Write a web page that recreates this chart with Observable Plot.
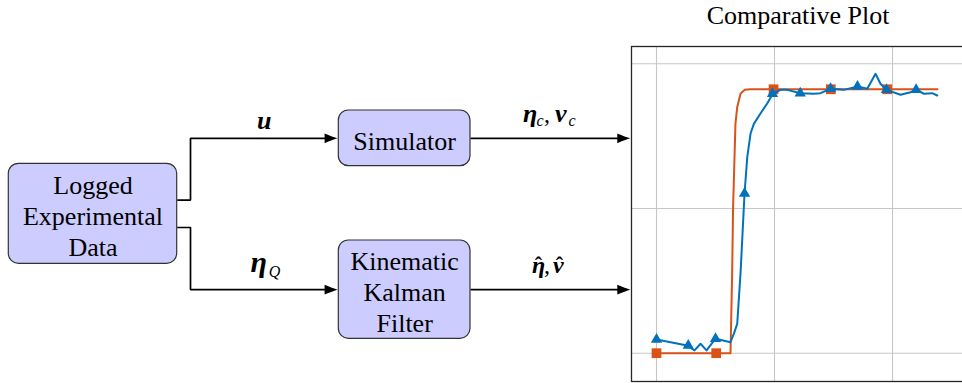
<!DOCTYPE html>
<html>
<head>
<meta charset="utf-8">
<script src="https://cdn.jsdelivr.net/npm/d3@7"></script>
<script src="https://cdn.jsdelivr.net/npm/@observablehq/plot@0.6"></script>
<style>
  body { margin: 0; background: #fff; }
  #fig { position: relative; width: 962px; height: 383px; overflow: hidden; background: #fff; }
  #fig svg { position: absolute; top: 0; }
  #fig svg text { font-family: "Liberation Serif", "Times New Roman", serif !important; }
</style>
</head>
<body>
<div id="fig"></div>
<script>
// ---- Block diagram content ----
const blockIds = ["data", "sim", "kkf"];
const blockLabels = ["Logged\nExperimental\nData", "Simulator", "Kinematic\nKalman\nFilter"];

// wires between blocks and into the plot
const wireIds = ["u", "etaQ", "simOut", "kfOut"];
const wireSources = ["data", "data", "sim", "kkf"];
const wireTargets = ["sim", "kkf", "plot", "plot"];

// ---- Comparative plot series (time and value in grid units) ----
// simulator output (orange)
const simT = [0, 0.627, 0.641, 0.649, 0.669, 0.684, 0.712, 0.746, 0.797, 2.381];
const simY = [0, 0, 0.549, 1.009, 1.585, 1.700, 1.793, 1.820, 1.824, 1.824];
const simMarkT = [0, 0.506, 0.992, 1.477, 1.955];
const simMarkY = [0, 0, 1.824, 1.824, 1.824];
// Kalman filter estimate (blue)
const kfT = [0, 0.26, 0.322, 0.373, 0.424, 0.5, 0.627, 0.655, 0.684, 0.712, 0.746, 0.769, 0.797, 0.825, 0.881, 0.938, 0.986, 1.051, 1.108, 1.22, 1.333, 1.39, 1.475, 1.587, 1.706, 1.786, 1.856, 1.898, 1.949, 2.068, 2.153, 2.203, 2.266, 2.337, 2.379];
const kfY = [0.095, 0.053, 0.019, 0.065, 0.019, 0.1, 0.076, 0.134, 0.203, 0.551, 1.104, 1.355, 1.518, 1.585, 1.657, 1.726, 1.793, 1.820, 1.820, 1.797, 1.793, 1.797, 1.827, 1.820, 1.843, 1.827, 1.931, 1.862, 1.820, 1.786, 1.804, 1.820, 1.793, 1.797, 1.781];
const kfMarkT = [0, 0.269, 0.5, 0.746, 0.983, 1.218, 1.475, 1.703, 1.949, 2.2];
const kfMarkY = [0.095, 0.053, 0.1, 1.104, 1.793, 1.797, 1.827, 1.843, 1.820, 1.820];
const gridTicksX = [0, 1, 2];
const gridTicksY = [0, 1, 2];
const plotTitle = "Comparative Plot";

// ---- Layout (pixels) ----
const layout = {
  blocks: {
    data: {x1: 8.3, x2: 176.7, y1: 163.3, y2: 263.3},
    sim:  {x1: 338.3, x2: 470, y1: 110, y2: 165.7},
    kkf:  {x1: 338.3, x2: 470, y1: 240, y2: 338.3}
  },
  plot: {left: 631, right: 964, top: 46, bottom: 381, svgLeft: 620, svgWidth: 352},
  forkX: 190,
  forkOffset: 13.7,
  gapToTarget: 1.2,
  radius: 10
};

const serif = "Liberation Serif";
const mid = b => (b.y1 + b.y2) / 2;

const blocks = blockIds.map((id, i) => ({id, label: blockLabels[i], ...layout.blocks[id]}));

// wire polylines routed from the block geometry
const wirePoints = [];
const wireTips = [];
wireIds.forEach((id, i) => {
  const s = layout.blocks[wireSources[i]];
  const tgt = wireTargets[i];
  let pts;
  if (tgt === "plot") {
    const y = mid(s);
    pts = [[s.x2, y], [layout.plot.left - layout.gapToTarget, y]];
  } else {
    const t = layout.blocks[tgt];
    const y0 = mid(s) + (i === 0 ? -layout.forkOffset : layout.forkOffset);
    const y1 = mid(t);
    pts = [[s.x2, y0], [layout.forkX, y0], [layout.forkX, y1], [t.x1 - layout.gapToTarget, y1]];
  }
  const [tx, ty] = pts[pts.length - 1];
  wireTips.push({id, x: tx, y: ty});
  pts[pts.length - 1] = [tx - 4, ty];
  pts.forEach(([x, y]) => wirePoints.push({id, x, y}));
});

// filled LaTeX-style arrow tip pointing right, tip at the origin
const latexTip = {
  draw(context) {
    const L = 13, W = 4.8;
    context.moveTo(0, 0);
    context.bezierCurveTo(-3, -0.8, -8, -2.7, -L, -W);
    context.lineTo(-L, W);
    context.bezierCurveTo(-8, 2.7, -3, 0.8, 0, 0);
    context.closePath();
  }
};

// wire labels: bold italic symbols, italic subscripts, hats
const symbolPieces = [
  {text: "u", x: 256.5, y: 128.3, size: 26},
  {text: "η", x: 250, y: 271.7, size: 30},
  {text: "η", x: 522.5, y: 121.7, size: 26},
  {text: "ν", x: 554.5, y: 121.7, size: 26},
  {text: "η", x: 531.5, y: 272.5, size: 24},
  {text: "ν", x: 552.5, y: 272.5, size: 24}
];
const subscriptPieces = [
  {text: "Q", x: 268.3, y: 276.5},
  {text: "c", x: 536, y: 125},
  {text: "c", x: 568, y: 125}
];
const commaPieces = [
  {text: ",", x: 543.5, y: 121.7},
  {text: ",", x: 543.5, y: 272.5}
];
const hatPieces = [
  {text: "ˆ", x: 538, y: 271.5},
  {text: "ˆ", x: 559, y: 271.5}
];

const textBase = {x: "x", y: "y", text: "text", textAnchor: "start", lineAnchor: "bottom", fill: "black", fontFamily: serif};

const diagram = Plot.plot({
  width: 962,
  height: 383,
  margin: 0,
  x: {type: "identity", axis: null},
  y: {type: "identity", axis: null},
  style: {background: "transparent", overflow: "visible"},
  marks: [
    Plot.line(wirePoints, {x: "x", y: "y", z: "id", stroke: "black", strokeWidth: 1.7, strokeLinejoin: "miter", strokeLinecap: "butt"}),
    Plot.dot(wireTips, {x: "x", y: "y", symbol: latexTip, r: 5, fill: "black"}),
    Plot.rect(blocks, {x1: "x1", x2: "x2", y1: "y1", y2: "y2", rx: layout.radius, fill: "#ccccff", stroke: "#333", strokeWidth: 1.2}),
    Plot.text(blocks, {x: d => (d.x1 + d.x2) / 2, y: d => mid(d) + 1.5, text: "label", fontSize: 26, lineHeight: 1.2, fill: "black", fontFamily: serif}),
    ...d3.groups(symbolPieces, d => d.size).map(([size, pieces]) =>
      Plot.text(pieces, {...textBase, fontSize: size, fontStyle: "italic", fontWeight: "bold"})),
    Plot.text(subscriptPieces, {...textBase, fontSize: 16, fontStyle: "italic"}),
    Plot.text(commaPieces, {...textBase, fontSize: 24}),
    Plot.text(hatPieces, {...textBase, textAnchor: "middle", fontSize: 22, fontWeight: "bold"})
  ]
});

// ---- Comparative plot ----
const P = layout.plot;
const sim = simT.map((t, i) => ({t, v: simY[i]}));
const simMarks = simMarkT.map((t, i) => ({t, v: simMarkY[i]}));
const kf = kfT.map((t, i) => ({t, v: kfY[i]}));
const kfMarks = kfMarkT.map((t, i) => ({t, v: kfMarkY[i]}));

const orange = "#D95319";
const blue = "#0072BD";

const comparison = Plot.plot({
  width: P.svgWidth,
  height: 383,
  marginLeft: P.left - P.svgLeft,
  marginRight: P.svgLeft + P.svgWidth - P.right,
  marginTop: P.top,
  marginBottom: 383 - P.bottom,
  x: {domain: [-0.2119, 2.61], axis: null},
  y: {domain: [-0.1956, 2.1196], axis: null},
  style: {background: "transparent", overflow: "visible"},
  marks: [
    Plot.ruleX(gridTicksX, {stroke: "#c6c6c6", strokeWidth: 1.1}),
    Plot.ruleY(gridTicksY, {stroke: "#c6c6c6", strokeWidth: 1.1}),
    Plot.line(sim, {x: "t", y: "v", stroke: orange, strokeWidth: 2}),
    Plot.dot(simMarks, {x: "t", y: "v", symbol: "square", r: 5.5, fill: orange}),
    Plot.line(kf, {x: "t", y: "v", stroke: blue, strokeWidth: 2}),
    Plot.dot(kfMarks, {x: "t", y: "v", symbol: "triangle", r: 4.2, fill: blue}),
    Plot.frame({stroke: "#262626", strokeWidth: 1.3}),
    Plot.text([plotTitle], {frameAnchor: "top", dy: -23, lineAnchor: "bottom", fontSize: 26, fill: "black", fontFamily: serif})
  ]
});
comparison.style.left = P.svgLeft + "px";
diagram.style.left = "0px";

const fig = document.getElementById("fig");
fig.appendChild(diagram);
fig.appendChild(comparison);
</script>
</body>
</html>
